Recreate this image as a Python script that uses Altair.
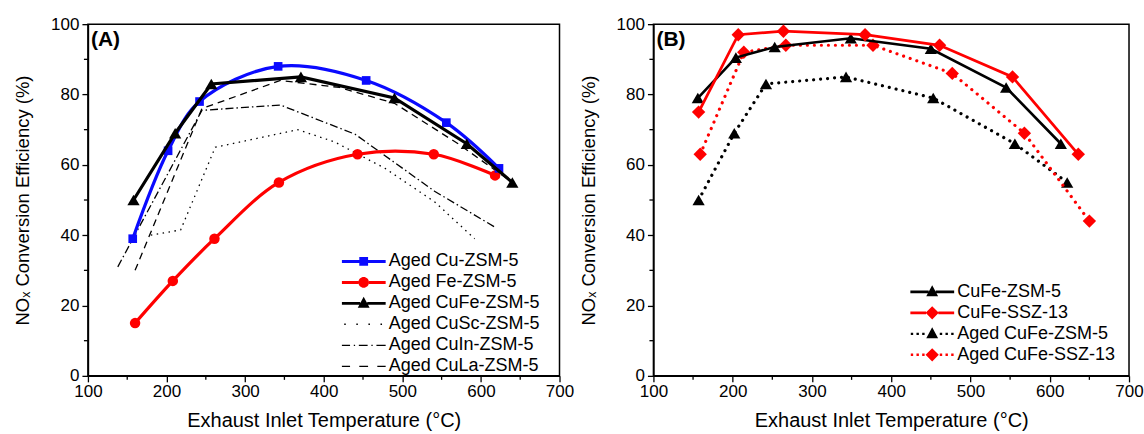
import altair as alt
import pandas as pd

# ---------------- data ----------------
# Panel A
a_cu_x = [157, 202, 242, 342, 454, 556, 623]
a_cu_y = [39, 64, 78, 88, 84, 72, 59]
a_fe_x = [160, 208, 261, 343, 443, 540, 618]
a_fe_y = [15, 27, 39, 55, 63, 63, 57]
a_cufe_x = [158, 211, 257, 371, 490, 582, 640]
a_cufe_y = [50, 69, 83, 85, 79, 66, 55]
a_cusc_x = [180, 218, 262, 367, 414, 478, 541, 592]
a_cusc_y = [40, 41.5, 65, 70, 66.5, 59, 49.5, 39]
a_cuin_x = [138, 245, 345, 440, 541, 620]
a_cuin_y = [31, 75.5, 77, 68.7, 52.5, 42]
a_cula_x = [160, 245, 345, 420, 490, 571, 640]
a_cula_y = [30, 76, 84, 82, 77.5, 66, 55]
a_names = ["Aged Cu-ZSM-5", "Aged Fe-ZSM-5", "Aged CuFe-ZSM-5",
           "Aged CuSc-ZSM-5", "Aged CuIn-ZSM-5", "Aged CuLa-ZSM-5"]

# Panel B
b_zsm_x = [156, 204, 253, 349, 450, 545, 614]
b_zsm_y = [79, 90.5, 93.5, 96, 93, 82, 66]
b_ssz_x = [157, 207, 264, 367, 461, 553, 636]
b_ssz_y = [75, 97, 98, 97, 94, 85, 63]
b_azsm_x = [157, 202, 242, 343, 453, 556, 622]
b_azsm_y = [50, 69, 83, 85, 79, 66, 55]
b_assz_x = [159, 214, 267, 377, 477, 568, 650]
b_assz_y = [63, 92, 94, 94, 86, 69, 44]
b_names = ["CuFe-ZSM-5", "CuFe-SSZ-13", "Aged CuFe-ZSM-5", "Aged CuFe-SSZ-13"]

x_major = [100, 200, 300, 400, 500, 600, 700]
x_minor = [150, 250, 350, 450, 550, 650]
y_major = [0, 20, 40, 60, 80, 100]
y_minor = [10, 30, 50, 70, 90]

FONT = "Liberation Sans"
BLUE = "#0a0aff"
RED = "#ff0000"
BLACK = "#000000"
X_TITLE = "Exhaust Inlet Temperature (°C)"
Y_TITLE = "NOₓ Conversion Efficiency (%)"
PLOT_H = 352


# ---------------- legend symbol paths (unit square -1..1) ----------------
def rect(x0, x1, h):
    return f"M{x0},{-h}H{x1}V{h}H{x0}Z"


def dots(xs, h):
    return "".join(rect(round(x - h, 3), round(x + h, 3), h) for x in xs)


SQ = "M-0.2,-0.2H0.2V0.2H-0.2Z"
CIRC = "M-0.24,0A0.24,0.24 0 1 1 0.24,0A0.24,0.24 0 1 1 -0.24,0Z"
TRI = "M0,-0.3L0.27,0.2L-0.27,0.2Z"
DIA = "M0,-0.3L0.3,0L0,0.3L-0.3,0Z"
TH = 0.068
TN = 0.03

a_paths = [
    rect(-1, -0.2, TH) + rect(0.2, 1, TH) + SQ,
    rect(-1, -0.24, TH) + rect(0.24, 1, TH) + CIRC,
    rect(-1, -0.16, TH) + rect(0.16, 1, TH) + TRI,
    dots([-0.85, -0.3, 0.25, 0.8], 0.035),
    rect(-1, -0.62, TN) + dots([-0.42], TN) + rect(-0.22, 0.18, TN) + dots([0.38], TN) + rect(0.58, 1, TN),
    rect(-1, -0.62, TN) + rect(-0.2, 0.2, TN) + rect(0.62, 1, TN),
]
b_paths = [
    rect(-1, -0.16, 0.06) + rect(0.16, 1, 0.06) + TRI,
    rect(-1, -0.28, 0.06) + rect(0.28, 1, 0.06) + DIA,
    dots([-0.92, -0.66, -0.4, 0.4, 0.66, 0.92], 0.055) + TRI,
    dots([-0.92, -0.66, -0.4, 0.4, 0.66, 0.92], 0.055) + DIA,
]


def xscale():
    return alt.Scale(domain=[100, 700], nice=False, zero=False)


def yscale():
    return alt.Scale(domain=[0, 100], nice=False, zero=True)


def series_layers(xs, ys, color, width, dash=None, interp="linear", shape=None, size=0, cap="butt"):
    df = pd.DataFrame({"x": xs, "y": ys})
    base = alt.Chart(df)
    kw = dict(color=color, strokeWidth=width, interpolate=interp, strokeCap=cap)
    if dash:
        kw["strokeDash"] = dash
    enc = dict(x=alt.X("x:Q", scale=xscale(), axis=None),
               y=alt.Y("y:Q", scale=yscale(), axis=None))
    out = [base.mark_line(**kw).encode(**enc)]
    if shape:
        out.append(base.mark_point(shape=shape, size=size, filled=True, color=color,
                                   opacity=1, strokeWidth=0).encode(**enc))
    return out


def panel(layers, names, colors, paths, lx, ly, label, width):
    nulls = pd.DataFrame({"series": names, "x": [None] * len(names), "y": [None] * len(names)})
    leg = alt.Legend(orient="none", legendX=lx, legendY=ly, title=None, clipHeight=20.9,
                     rowPadding=0, padding=0, symbolSize=1936, symbolStrokeWidth=0,
                     labelFont=FONT, labelFontSize=18, labelColor="black",
                     labelOffset=3, symbolOffset=0, labelLimit=400)
    legend_layer = alt.Chart(nulls).mark_point(filled=True, opacity=1).encode(
        x=alt.X("x:Q", scale=xscale(),
                axis=alt.Axis(values=x_major, title=X_TITLE, tickSize=6, labelPadding=2,
                              titlePadding=11, titleFontSize=20, format="d", labelFlush=False)),
        y=alt.Y("y:Q", scale=yscale(),
                axis=alt.Axis(values=y_major, title=Y_TITLE, tickSize=6, labelPadding=3,
                              titlePadding=18, titleFontSize=18.5, format="d")),
        color=alt.Color("series:N", scale=alt.Scale(domain=names, range=colors), legend=leg),
        shape=alt.Shape("series:N", scale=alt.Scale(domain=names, range=paths), legend=leg),
    )
    # minor ticks (outside the frame), placed through the panel's own scales
    minor_x = alt.Chart(pd.DataFrame({"v": x_minor})).mark_rule(
        color="black", strokeWidth=1.3
    ).encode(x=alt.X("v:Q", scale=xscale(), axis=None),
             y=alt.value(PLOT_H), y2=alt.value(PLOT_H + 4))
    minor_y = alt.Chart(pd.DataFrame({"v": y_minor})).mark_rule(
        color="black", strokeWidth=1.3
    ).encode(y=alt.Y("v:Q", scale=yscale(), axis=None),
             x=alt.value(-4), x2=alt.value(0))
    txt = alt.Chart(pd.DataFrame({"t": [label]})).mark_text(
        align="left", baseline="top", font=FONT, fontSize=21, fontWeight="bold", color="black"
    ).encode(text="t:N", x=alt.value(3), y=alt.value(5))
    return alt.layer(legend_layer, minor_x, minor_y, *layers, txt).resolve_axis(
        x="independent", y="independent"
    ).properties(width=width, height=PLOT_H)


a_layers = []
a_layers += series_layers(a_cusc_x, a_cusc_y, BLACK, 1.3, dash=[1.5, 4.5])
a_layers += series_layers(a_cuin_x, a_cuin_y, BLACK, 1.3, dash=[8, 3, 1.5, 3])
a_layers += series_layers(a_cula_x, a_cula_y, BLACK, 1.3, dash=[7, 5])
a_layers += series_layers(a_fe_x, a_fe_y, RED, 3.2, interp="catmull-rom", shape="circle", size=110)
a_layers += series_layers(a_cu_x, a_cu_y, BLUE, 3.2, interp="catmull-rom", shape="square", size=75)
a_layers += series_layers(a_cufe_x, a_cufe_y, BLACK, 3.2, shape="triangle-up", size=150)

b_layers = []
b_layers += series_layers(b_azsm_x, b_azsm_y, BLACK, 3.2, dash=[0.01, 7], shape="triangle-up", size=150, cap="round")
b_layers += series_layers(b_assz_x, b_assz_y, RED, 3.2, dash=[0.01, 7], shape="diamond", size=180, cap="round")
b_layers += series_layers(b_zsm_x, b_zsm_y, BLACK, 2.6, shape="triangle-up", size=150)
b_layers += series_layers(b_ssz_x, b_ssz_y, RED, 2.8, shape="diamond", size=180)

pA = panel(a_layers, a_names, [BLUE, RED, BLACK, BLACK, BLACK, BLACK], a_paths, 254, 227, "(A)", 472)
pB = panel(b_layers, b_names, [BLACK, RED, BLACK, RED], b_paths, 257, 257.5, "(B)", 476)

chart = alt.hconcat(pA, pB, spacing=94, bounds="flush").resolve_scale(
    color="independent", shape="independent"
).properties(
    padding={"left": 12, "top": 14, "right": 0, "bottom": 0},
    background="white",
).configure_view(stroke="black", strokeWidth=1.5).configure_axis(
    labelFont=FONT, labelFontSize=17, labelColor="black",
    titleFont=FONT, titleFontSize=19, titleFontWeight="normal", titleColor="black",
    domainColor="black", domainWidth=1.5, tickColor="black", tickWidth=1.3, grid=False,
)

chart.save("out.html", embed_options={"renderer": "svg", "actions": False})
